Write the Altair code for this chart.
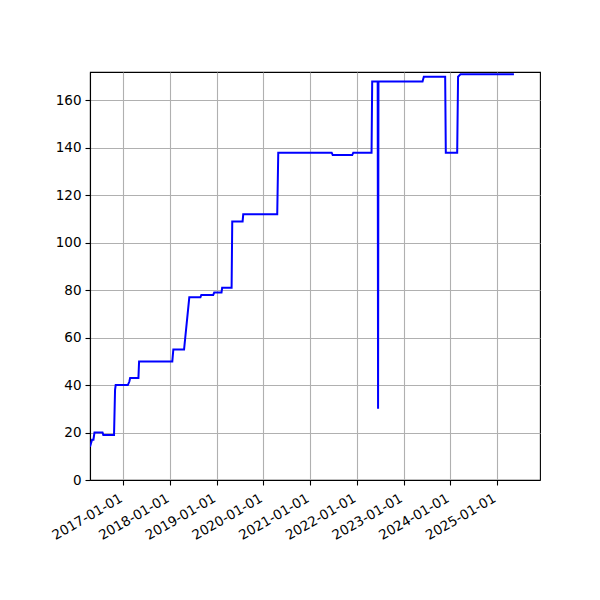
import altair as alt
import pandas as pd

dates = [
    "2016-04-14", "2016-04-30", "2016-05-11", "2016-05-19", "2016-07-21",
    "2016-07-27", "2016-10-19", "2016-10-27", "2016-11-01", "2017-02-04",
    "2017-02-16", "2017-02-22", "2017-04-28", "2017-05-03", "2018-01-18",
    "2018-01-26", "2018-04-20", "2018-05-31", "2018-08-26", "2018-09-02",
    "2018-12-04", "2018-12-12", "2019-02-07", "2019-02-12", "2019-04-27",
    "2019-05-02", "2019-07-22", "2019-07-27", "2020-04-18", "2020-04-26",
    "2021-06-18", "2021-06-26", "2021-11-26", "2021-12-04", "2022-04-26",
    "2022-05-01", "2022-06-13", "2022-06-16", "2022-06-19", "2023-05-30",
    "2023-06-09", "2023-11-23", "2023-11-28", "2024-02-25", "2024-03-03",
    "2024-03-22", "2025-05-14",
]
values = [
    14, 17, 17, 20, 20,
    19, 19, 38, 40, 40,
    41.5, 43, 43, 50, 50,
    55, 55, 77, 77, 78,
    78, 79, 79, 81, 81,
    109, 109, 112, 112, 138,
    138, 137, 137, 138, 138,
    168, 168, 30, 168, 168,
    170, 170, 138, 138, 170,
    171, 171,
]
tick_years = [2017, 2018, 2019, 2020, 2021, 2022, 2023, 2024, 2025]
y_ticks = [0, 20, 40, 60, 80, 100, 120, 140, 160]

df = pd.DataFrame({"date": dates, "value": values})

x_domain = [alt.DateTime(year=2016, month=4, date=14, utc=True),
            alt.DateTime(year=2025, month=12, date=4, utc=True)]
x_vals = [alt.DateTime(year=y, month=1, date=1, utc=True) for y in tick_years]

chart = alt.Chart(df).mark_line(color="#0000ff", strokeWidth=2, clip=True).encode(
    x=alt.X("date:T",
            scale=alt.Scale(type="utc", domain=x_domain, nice=False),
            axis=alt.Axis(values=x_vals,
                          labelExpr="utcFormat(datum.value, '%Y-%m-%d')",
                          labelAngle=330, labelAlign="right", labelBaseline="top",
                          labelOffset=-6, labelFontSize=13.5, labelPadding=6,
                          title=None)),
    y=alt.Y("value:Q",
            scale=alt.Scale(domain=[0, 172], nice=False, zero=True),
            axis=alt.Axis(values=y_ticks, title=None)),
).properties(
    width=450, height=408,
    background="white",
    autosize=alt.AutoSizeParams(type="none"),
    padding={"left": 82, "top": 64, "right": 52, "bottom": 112},
).configure_axis(
    grid=True, gridColor="#b0b0b0", gridWidth=1.1, gridOpacity=1,
    domainColor="black", domainWidth=1.1,
    tickColor="black", tickSize=5, tickWidth=1.1,
    labelFont="DejaVu Sans", labelFontSize=13.5, labelColor="black",
    labelPadding=4, labelFlush=False, labelOverlap=False,
).configure_view(
    stroke="black", strokeWidth=1.1,
)

chart.save("out.html", embed_options={"renderer": "svg", "actions": False})
